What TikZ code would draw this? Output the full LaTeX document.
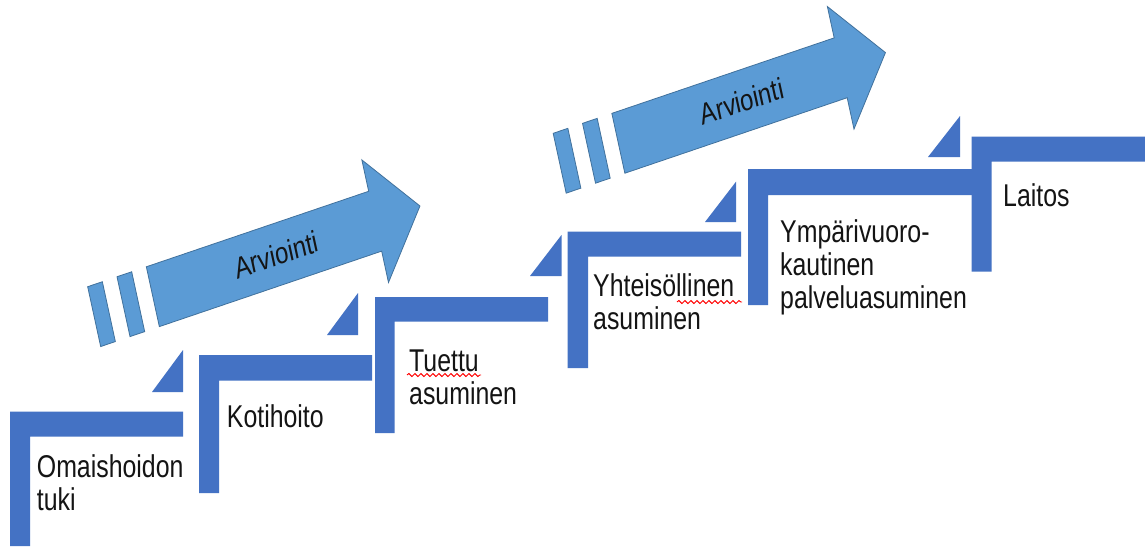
\documentclass[tikz,border=0pt]{standalone}
\usepackage{fontspec}
\setmainfont{Liberation Sans}[FakeStretch=0.79]
\newfontfamily\arvfont{Liberation Sans}
\usetikzlibrary{decorations.pathmorphing}
\definecolor{stepblue}{RGB}{68,114,196}
\definecolor{arrowfill}{RGB}{91,155,213}
\definecolor{arrowline}{RGB}{65,113,156}
\definecolor{txt}{RGB}{20,20,20}
\newcommand\stepL[6]{\fill[stepshape] (#1,#6) -- (#1,#3) -- (#5,#3) -- (#5,#4) -- (#2,#4) -- (#2,#6) -- cycle;}
\newcommand\steptri[4]{\fill[tri] (#1,#3) -- (#2,#3) -- (#2,#4) -- cycle;}
\newcommand\evalarrow[3]{%
  \begin{scope}[shift={(#1)}, xscale=0.8, rotate=15.2]
    \draw[arrowshape] (0,-31) -- (288,-31) -- (288,-63.5) -- (346,0) -- (288,63.5) -- (288,31) -- (0,31) -- cycle;
    \draw[arrowshape] (-76,-31) rectangle (-57,31);
    \draw[arrowshape] (-38,-31) rectangle (-19,31);
    \node[arvlbl] (#2) at (160,0) {#3};
  \end{scope}}
\begin{document}
\begin{tikzpicture}[x=1pt,y=-1pt,
  stepshape/.style={fill=stepblue, draw=none},
  tri/.style={fill=stepblue},
  arrowshape/.style={fill=arrowfill, draw=arrowline, line width=0.8pt, line join=miter},
  lbl/.style={anchor=base west, inner sep=0pt, align=left, text=txt, font=\fontsize{31.5}{33}\selectfont},
  arvlbl/.style={inner sep=0pt, text=txt, font=\arvfont\fontsize{30}{33}\selectfont, transform shape},
  squiggle/.style={draw=red, line width=0.9pt, decorate, decoration={snake, amplitude=1.5pt, segment length=6pt}}]
\useasboundingbox (0,0) rectangle (1145,546);
\fill[white] (0,0) rectangle (1145,546);
% steps
\stepL{10}{30}{411.7}{436.7}{183}{546}
\stepL{199}{219}{355}{380.7}{372}{493}
\stepL{375}{394.5}{297}{321.7}{548}{433}
\stepL{567.5}{588}{231.7}{256.7}{741}{368}
\stepL{748}{768}{169}{195}{972}{305}
\stepL{971.7}{991.7}{136.7}{161.7}{1145}{271.7}
% triangles
\steptri{152}{183}{392}{350}
\steptri{327}{358}{335}{293}
\steptri{530}{561.5}{276}{235}
\steptri{705}{736}{222}{181.7}
\steptri{928}{960}{157}{116}
% arrows
\evalarrow{152.85,296.7}{arv1}{Arviointi}
\evalarrow{618.35,143.3}{arv2}{Arviointi}
% labels (anchor at the baseline of the last line)
\node[lbl] (omaishoidon) at (36.7,510) {Omaishoidon\\tuki};
\node[lbl] (kotihoito) at (226.7,427) {Kotihoito};
\node[lbl] (tuettu) at (409,404) {Tuettu\\asuminen};
\node[lbl] (yhteis) at (593,329) {Yhteisöllinen\\asuminen};
\node[lbl] (ymparivuoro) at (780,308) {Ympärivuoro-\\kautinen\\palveluasuminen};
\node[lbl] (laitos) at (1003,206.7) {Laitos};
% spelling squiggles
\draw[squiggle] (407,375) -- (481,375);
\draw[squiggle] (677,302) -- (742,302);
\end{tikzpicture}
\end{document}
